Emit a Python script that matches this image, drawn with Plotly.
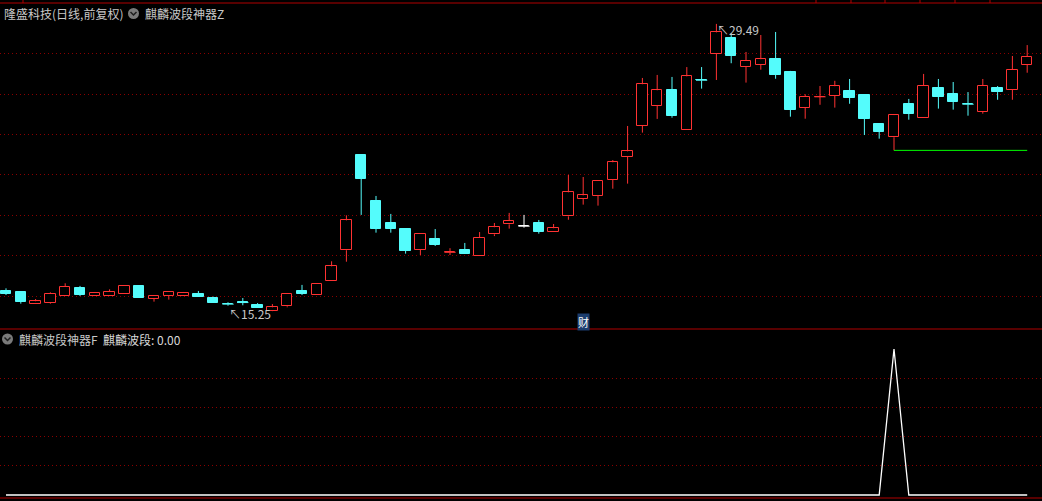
import plotly.graph_objects as go

# ---------------- data ----------------
STOCK_TITLE = "隆盛科技(日线,前复权)"
UPPER_INDICATOR = "麒麟波段神器Z"
LOWER_INDICATOR = "麒麟波段神器F"
LOWER_SERIES_NAME = "麒麟波段"
LOWER_SERIES_VALUE = "0.00"
BADGE_TEXT = "财"

OPEN = [16.25, 16.20, 15.59, 15.67, 15.99, 16.38, 15.99, 15.99, 16.11, 16.50,
        15.87, 15.99, 16.01, 16.10, 15.90, 15.60, 15.68, 15.57, 15.27, 15.49,
        16.25, 16.06, 16.76, 18.27, 22.99, 20.71, 19.62, 19.32, 18.30, 18.83,
        18.16, 18.28, 17.97, 19.06, 19.55, 19.46, 19.62, 19.19, 19.95, 20.82,
        20.97, 21.77, 22.91, 24.44, 25.44, 26.21, 24.25, 26.70, 28.01, 28.79,
        27.37, 27.47, 27.75, 27.11, 25.34, 25.87, 25.93, 26.16, 25.97, 24.53,
        23.87, 25.52, 24.84, 26.31, 26.02, 25.51, 25.14, 26.31, 26.23, 27.47]
HIGH = [16.38, 16.20, 15.85, 16.18, 16.63, 16.50, 16.20, 16.33, 16.48, 16.53,
        15.99, 16.18, 16.20, 16.25, 15.97, 15.69, 15.90, 15.65, 15.60, 16.08,
        16.55, 16.58, 17.72, 20.00, 22.99, 20.96, 20.07, 19.32, 19.06, 19.32,
        18.37, 18.63, 19.17, 19.62, 20.12, 20.02, 19.77, 19.57, 22.00, 21.90,
        21.69, 22.74, 24.43, 26.81, 26.96, 26.86, 27.35, 27.35, 29.49, 29.02,
        28.10, 28.94, 29.09, 27.16, 26.00, 26.41, 26.67, 26.76, 25.97, 24.53,
        25.02, 25.77, 27.01, 26.76, 26.61, 26.11, 26.76, 26.41, 27.90, 28.44]
LOW = [16.05, 15.62, 15.59, 15.62, 15.99, 16.00, 15.99, 15.99, 16.11, 15.92,
       15.72, 15.82, 16.01, 15.97, 15.67, 15.52, 15.54, 15.42, 15.25, 15.44,
       16.05, 16.06, 16.76, 17.70, 20.02, 19.14, 19.14, 18.10, 18.03, 18.48,
       18.03, 18.10, 17.97, 18.97, 19.34, 19.39, 19.09, 19.19, 19.78, 20.53,
       20.48, 21.32, 21.57, 24.10, 24.78, 24.84, 24.25, 26.28, 26.71, 27.54,
       26.58, 27.22, 26.77, 24.89, 24.79, 25.48, 25.34, 25.53, 23.98, 23.80,
       23.22, 24.74, 24.84, 25.29, 25.24, 24.94, 25.04, 25.73, 25.73, 27.07]
CLOSE = [16.11, 15.72, 15.74, 16.10, 16.45, 16.06, 16.15, 16.20, 16.48, 15.92,
         15.99, 16.18, 16.15, 15.97, 15.67, 15.59, 15.67, 15.42, 15.44, 16.08,
         16.11, 16.58, 17.47, 19.75, 21.80, 19.32, 19.32, 18.23, 19.06, 18.53,
         18.17, 18.10, 18.88, 19.41, 19.72, 19.46, 19.19, 19.36, 21.14, 20.99,
         21.69, 22.63, 23.17, 26.50, 26.20, 24.92, 26.89, 26.69, 29.07, 27.91,
         27.65, 27.74, 26.97, 25.24, 25.87, 25.88, 26.40, 25.82, 24.79, 24.15,
         24.97, 25.04, 26.41, 25.88, 25.63, 25.50, 26.41, 26.11, 27.21, 27.85]
WAVE = [0, 0, 0, 0, 0, 0, 0, 0, 0, 0,
        0, 0, 0, 0, 0, 0, 0, 0, 0, 0,
        0, 0, 0, 0, 0, 0, 0, 0, 0, 0,
        0, 0, 0, 0, 0, 0, 0, 0, 0, 0,
        0, 0, 0, 0, 0, 0, 0, 0, 0, 0,
        0, 0, 0, 0, 0, 0, 0, 0, 0, 0,
        100, 0, 0, 0, 0, 0, 0, 0, 0, 0]
PRICE_GRID = [16, 18, 20, 22, 24, 26, 28]
WAVE_GRID = [20, 40, 60, 80]
SUPPORT_START = 60      # green support line starts at this bar (its low)
LOW_LABEL_AT = 15       # bar where the low label is drawn

# ---------------- style / layout ----------------
W, H = 1042, 501
RED = "#ff3232"
CYAN = "#54fcfc"
WHITE = "#ffffff"
GREEN = "#00ff00"
BORDER = "#b00000"
GRID = "#8a0000"
TEXT = "#c8c8c8"
FONT = "Noto Sans CJK SC"
BODY_W = 0.70

n = len(OPEN)
idx = list(range(n))

def pxx(x):
    return x / W

def pxy(y):
    return 1 - y / H

colors = []
for o, c in zip(OPEN, CLOSE):
    colors.append(RED if c > o else (CYAN if c < o else WHITE))

fills = ["#000000" if col == RED else col for col in colors]
bases = [min(o, c) for o, c in zip(OPEN, CLOSE)]
heights = [abs(c - o) for o, c in zip(OPEN, CLOSE)]

fig = go.Figure()

# wick segments grouped by colour
for col in (RED, CYAN, WHITE):
    xs, ys = [], []
    for i in idx:
        if colors[i] != col:
            continue
        top = max(OPEN[i], CLOSE[i])
        bot = min(OPEN[i], CLOSE[i])
        if HIGH[i] > top:
            xs += [i, i, None]
            ys += [HIGH[i], top, None]
        if LOW[i] < bot:
            xs += [i, i, None]
            ys += [bot, LOW[i], None]
        if abs(CLOSE[i] - OPEN[i]) < 0.015:
            mid = (OPEN[i] + CLOSE[i]) / 2
            xs += [i - BODY_W / 2 - 0.03, i + BODY_W / 2 + 0.03, None]
            ys += [mid, mid, None]
    if xs:
        fig.add_trace(go.Scatter(x=xs, y=ys, mode="lines",
                                 line=dict(color=col, width=1),
                                 hoverinfo="skip", showlegend=False,
                                 xaxis="x", yaxis="y"))

# candle bodies
fig.add_trace(go.Bar(x=idx, y=heights, base=bases, width=BODY_W,
                     marker=dict(color=fills, line=dict(color=colors, width=1)),
                     hoverinfo="skip", showlegend=False,
                     xaxis="x", yaxis="y"))

# green support line
fig.add_trace(go.Scatter(x=[SUPPORT_START, n - 1],
                         y=[LOW[SUPPORT_START], LOW[SUPPORT_START]],
                         mode="lines", line=dict(color=GREEN, width=1),
                         hoverinfo="skip", showlegend=False,
                         xaxis="x", yaxis="y"))

# lower indicator line
fig.add_trace(go.Scatter(x=idx, y=WAVE, mode="lines",
                         line=dict(color=WHITE, width=1.3),
                         hoverinfo="skip", showlegend=False,
                         xaxis="x2", yaxis="y2"))

# axes: pixel-exact mapping
x_range = [-6 / 14.8, (W - 6) / 14.8]
upper_dom = [pxy(329), 1]
lower_dom = [0, pxy(330)]
# price <-> pixel: y = 296 + (16 - p) * 20.17
ppx = 20.17
price_top = 16 + 296 / ppx
price_bot = 16 - (329 - 296) / ppx
# wave <-> pixel: y = 495 - v * 1.46
wave_top = (495 - 330) / 1.46
wave_bot = (495 - 501) / 1.46

axis_common = dict(showticklabels=False, ticks="", zeroline=False, showline=False)

fig.update_layout(
    width=W, height=H,
    margin=dict(l=0, r=0, t=0, b=0),
    paper_bgcolor="#000000", plot_bgcolor="#000000",
    barmode="overlay", bargap=0,
    showlegend=False, hovermode=False,
    font=dict(family=FONT, size=12, color=TEXT),
    xaxis=dict(domain=[0, 1], range=x_range, showgrid=False, anchor="y", **axis_common),
    xaxis2=dict(domain=[0, 1], range=x_range, showgrid=False, anchor="y2", **axis_common),
    yaxis=dict(domain=upper_dom, range=[price_bot, price_top], tickvals=PRICE_GRID,
               showgrid=True, gridcolor=GRID, griddash="1px,3px", gridwidth=1,
               anchor="x", **axis_common),
    yaxis2=dict(domain=lower_dom, range=[wave_bot, wave_top], tickvals=WAVE_GRID,
                showgrid=True, gridcolor=GRID, griddash="1px,3px", gridwidth=1,
                anchor="x2", **axis_common),
)

shapes = []
for y in (3, 329, 498):
    shapes.append(dict(type="line", xref="paper", yref="paper",
                       x0=0, x1=1, y0=pxy(y), y1=pxy(y),
                       line=dict(color=BORDER, width=1)))
for tx in (23, 816, 851, 885, 920, 955, 990):
    shapes.append(dict(type="line", xref="paper", yref="paper",
                       x0=pxx(tx), x1=pxx(tx), y0=pxy(0), y1=pxy(3),
                       line=dict(color=BORDER, width=1)))
# dropdown circle icons
for cx, cy in ((133.5, 13.5), (7.5, 339)):
    r = 5.5
    shapes.append(dict(type="circle", xref="paper", yref="paper",
                       x0=pxx(cx - r), x1=pxx(cx + r), y0=pxy(cy + r), y1=pxy(cy - r),
                       fillcolor="#7a7a7a", line=dict(width=0)))
    shapes.append(dict(type="path", xref="paper", yref="paper",
                       path=f"M {pxx(cx-3)},{pxy(cy-1.5)} L {pxx(cx)},{pxy(cy+1.5)} L {pxx(cx+3)},{pxy(cy-1.5)}",
                       line=dict(color="#1e1e1e", width=1.5)))
fig.update_layout(shapes=shapes)

ann = []
def label(text, x, y, color=TEXT, size=12, **kw):
    ann.append(dict(text=text, x=pxx(x), y=pxy(y), xref="paper", yref="paper",
                    xanchor="left", yanchor="middle", showarrow=False,
                    font=dict(family=FONT, size=size, color=color), **kw))

label(STOCK_TITLE, 2, 14)
label(UPPER_INDICATOR, 143, 14)
label(LOWER_INDICATOR, 17, 339)
label(f"{LOWER_SERIES_NAME}: {LOWER_SERIES_VALUE}", 101, 339, color="#d8d8d8")

ann.append(dict(text=BADGE_TEXT, x=pxx(583.5), y=pxy(321.5), xref="paper", yref="paper",
                xanchor="center", yanchor="middle", showarrow=False,
                bgcolor="#1c3d6e", borderpad=0,
                font=dict(family=FONT, size=11, color="#ffffff")))

hi_i = max(idx, key=lambda i: HIGH[i])
ann.append(dict(text=f"↖{max(HIGH):.2f}", x=hi_i, y=HIGH[hi_i], xref="x", yref="y",
                xanchor="left", yanchor="top", showarrow=False, xshift=-1, yshift=5,
                font=dict(family=FONT, size=12, color=TEXT)))
ann.append(dict(text=f"↖{min(LOW):.2f}", x=LOW_LABEL_AT, y=LOW[LOW_LABEL_AT], xref="x", yref="y",
                xanchor="left", yanchor="top", showarrow=False, xshift=-1, yshift=3,
                font=dict(family=FONT, size=12, color=TEXT)))
fig.update_layout(annotations=ann)

fig.write_html("out.html", config={"displayModeBar": False},
               post_script="document.body.style.margin='0';document.body.style.background='#000';")
